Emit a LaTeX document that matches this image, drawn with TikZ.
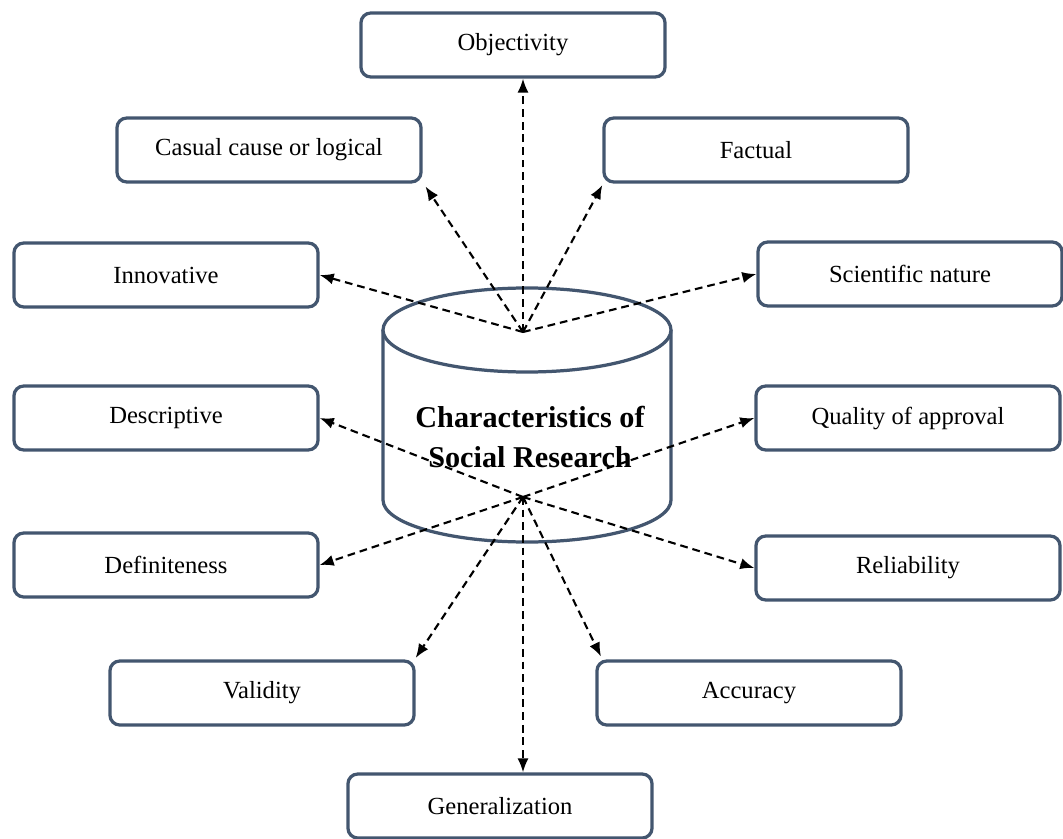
\documentclass[tikz,border=0pt]{standalone}
\usepackage{fontspec}
\setmainfont{Liberation Serif}
\usepackage{xcolor}
\usetikzlibrary{arrows.meta}
\definecolor{boxline}{HTML}{43566F}

\begin{document}
\begin{tikzpicture}[x=0.025cm,y=-0.025cm,
  box/.style={draw=boxline,line width=2.3pt,rounded corners=7pt,fill=white,
    minimum width=7.6cm,minimum height=1.6cm,font=\fontsize{17.5}{21}\selectfont},
  link/.style={line width=1.5pt,dash pattern=on 5.5pt off 3.5pt,-{Latex[length=10pt,width=8pt]}}]
\useasboundingbox (0,0) rectangle (1063,839);
% cylinder
\filldraw[draw=boxline,fill=white,line width=2.3pt] (383,330)--(383,500) arc[start angle=180,end angle=0,x radius=144,y radius=42]--(671,330);
\filldraw[draw=boxline,fill=white,line width=2.3pt] (527,330) ellipse[x radius=144,y radius=42];
\node (title) at (530,437) [align=center,font=\fontsize{21.5}{28.5}\selectfont\bfseries] {Characteristics of\\Social Research};
\coordinate (hubA) at (523,332);
\coordinate (hubB) at (523,497);
% boxes
\node (obj) at (513,45) [box] {Objectivity};
\node (cas) at (269,150) [box] {Casual cause or logical};
\node (fac) at (756,150) [box] {Factual};
\node (inn) at (166,275) [box] {Innovative};
\node (sci) at (910,274) [box] {Scientific nature};
\node (des) at (166,418) [box] {Descriptive};
\node (qua) at (908,418) [box] {Quality of approval};
\node (def) at (166,565) [box] {Definiteness};
\node (rel) at (908,568) [box] {Reliability};
\node (val) at (262,693) [box] {Validity};
\node (acc) at (749,693) [box] {Accuracy};
\node (gen) at (500,806) [box] {Generalization};
% arrows
\draw[link] (hubA)--(hubA |- obj.south);
\draw[link] (hubA)--([xshift=2pt,yshift=-2pt]cas.south east);
\draw[link] (hubA)--([yshift=-1pt]fac.south west);
\draw[link] (hubA)--(inn.east);
\draw[link] (hubA)--(sci.west);
\draw[link] (hubB)--(des.east);
\draw[link] (hubB)--(qua.west);
\draw[link] (hubB)--(def.east);
\draw[link] (hubB)--(rel.west);
\draw[link] (hubB)--([yshift=1pt]val.north east);
\draw[link] (hubB)--([xshift=4pt,yshift=2pt]acc.north west);
\draw[link] (hubB)--(hubB |- gen.north);
\end{tikzpicture}
\end{document}
